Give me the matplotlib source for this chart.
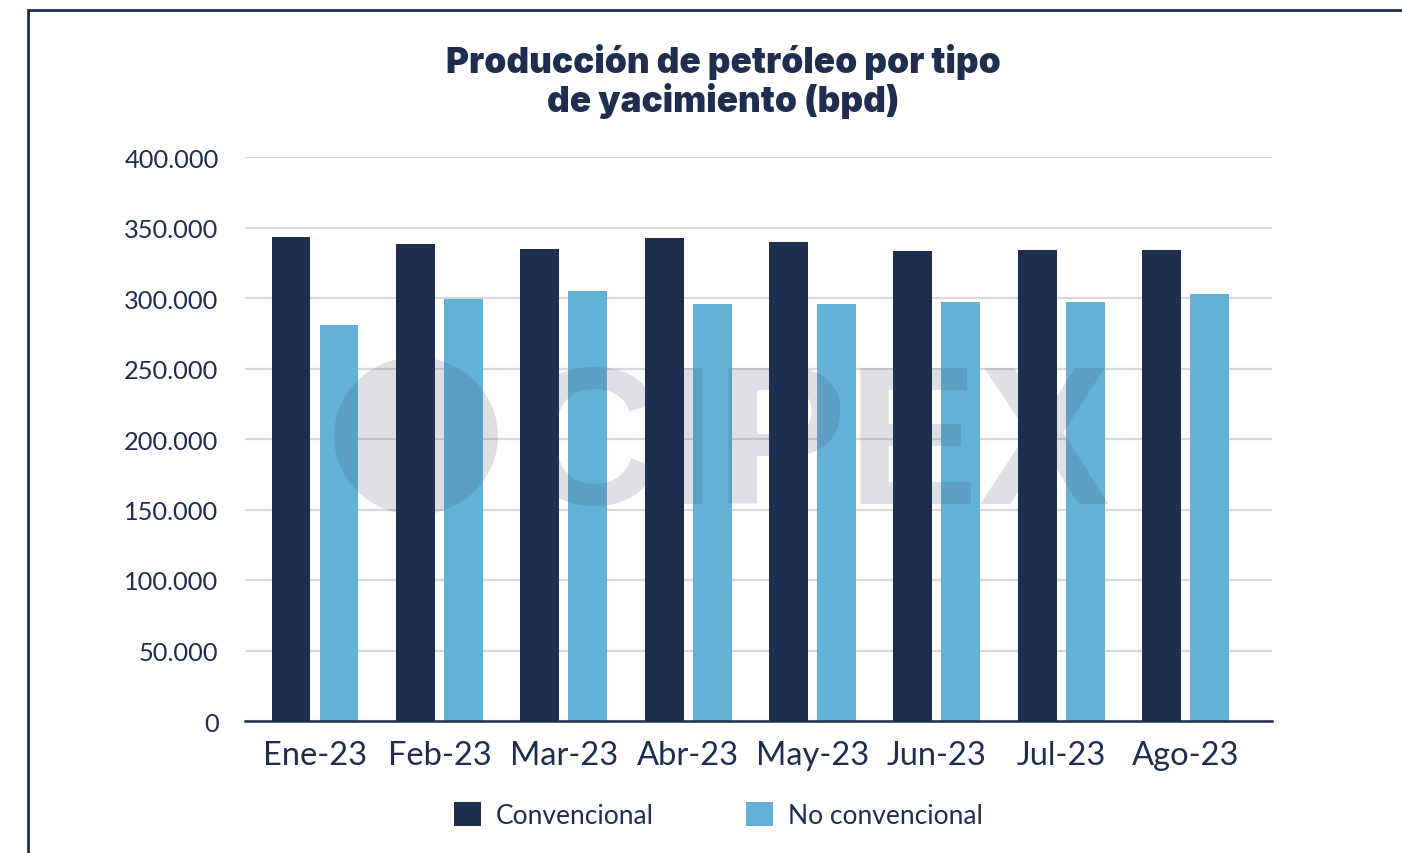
import numpy as np
import matplotlib.pyplot as plt
from matplotlib.patches import Rectangle, Ellipse

# datos (bpd)
meses = ['Ene-23', 'Feb-23', 'Mar-23', 'Abr-23', 'May-23', 'Jun-23', 'Jul-23', 'Ago-23']
convencional = [343000, 338000, 335000, 342500, 339500, 333000, 334000, 334000]
no_convencional = [281000, 299500, 305000, 295500, 295500, 297000, 297000, 302500]
yticks = [0, 50000, 100000, 150000, 200000, 250000, 300000, 350000, 400000]

navy = '#1f2d4f'
celeste = '#62b1d7'
plt.rcParams['font.family'] = ['Lato', 'DejaVu Sans']

fig = plt.figure(figsize=(14.02, 8.54), dpi=100)
ax = fig.add_axes([245 / 1402, 1 - 722 / 854, (1272 - 245) / 1402, (722 - 158) / 854])

x = np.arange(len(meses))
w = 0.313
off = 0.193
ax.bar(x - off, convencional, w, color=navy, label='Convencional', zorder=5)
ax.bar(x + off, no_convencional, w, color=celeste, label='No convencional', zorder=3)

ax.set_xlim(-0.563, 7.695)
ax.set_ylim(0, 400000)
ax.set_yticks(yticks)
ax.set_yticklabels(['0' if v == 0 else f'{v:,}'.replace(',', '.') for v in yticks])
ax.set_xticks(x)
ax.set_xticklabels(meses)
ax.tick_params(axis='y', length=0, pad=19, labelsize=18.3, labelcolor=navy)
ax.tick_params(axis='x', length=0, pad=14, labelsize=23.5, labelcolor=navy)
ax.grid(axis='y', color='#d9d9d9', linewidth=1.6, zorder=0)
ax.set_axisbelow(True)
for s in ['top', 'right', 'left']:
    ax.spines[s].set_visible(False)
ax.spines['bottom'].set_color(navy)
ax.spines['bottom'].set_linewidth(1.8)
ax.spines['bottom'].set_zorder(6)

# marca de agua (entre las barras celestes y las azules)
ax.text(0.5815, 1 - 453 / 854, 'CIPEX', transform=fig.transFigure, ha='center', va='center',
        fontsize=142, fontweight='bold', family=['Liberation Sans', 'DejaVu Sans'],
        color='#4a5570', alpha=0.18, zorder=4, clip_on=False)
ax.add_patch(Ellipse((416 / 1402, 1 - 437 / 854), 2 * 82 / 1402, 2 * 79 / 854,
                     transform=fig.transFigure, facecolor='#4a5570', alpha=0.18,
                     edgecolor='none', zorder=4, clip_on=False))

fig.suptitle('Producción de petróleo por tipo\nde yacimiento (bpd)', x=0.516, y=1 - 44 / 854,
             fontsize=25.3, fontweight='black', color=navy, linespacing=1.1, va='top',
             family=['Inter', 'DejaVu Sans'])

leg = fig.legend(loc='center', bbox_to_anchor=(0.5125, 1 - 816 / 854), ncol=2, frameon=False,
                 fontsize=19, handlelength=1.0, handleheight=1.0, handletextpad=0.57,
                 columnspacing=3.5, labelcolor=navy)

# marco
fig.patches.append(Rectangle((28 / 1402, -0.1), 2, 1.1 - 11 / 854, transform=fig.transFigure,
                             fill=False, edgecolor=navy, linewidth=2))

fig.savefig('out.png', dpi=100)
